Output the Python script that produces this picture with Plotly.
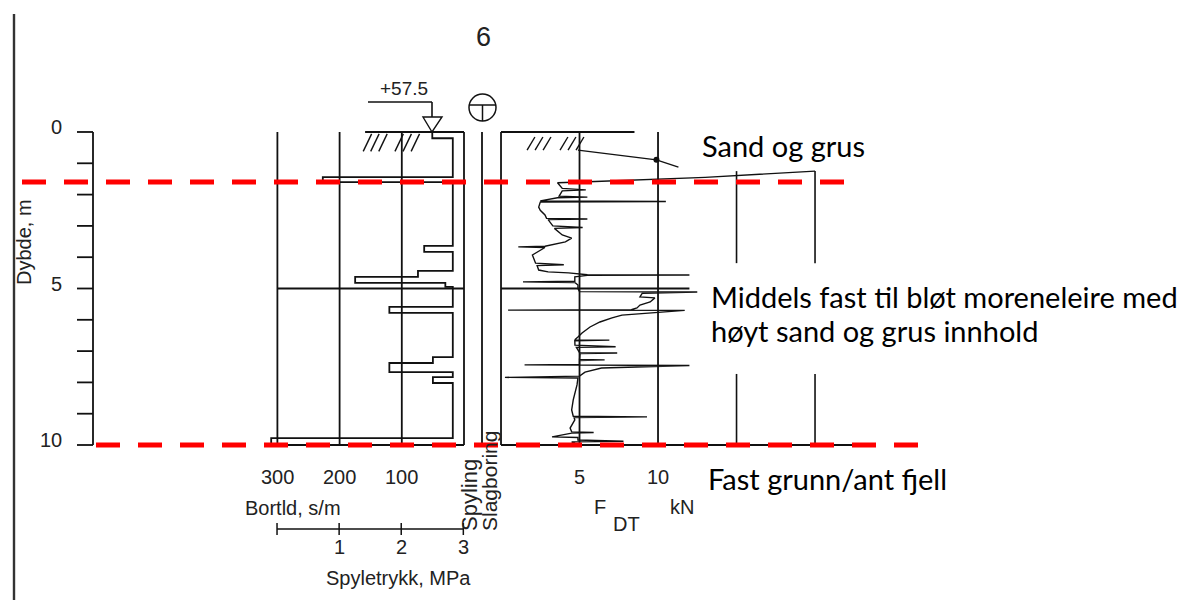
import plotly.graph_objects as go

W, H = 1184, 600

# ---------------- data ----------------
depth_ticks = list(range(0, 11))
depth_labels = ["0", "5", "10"]
depth_label_vals = [0, 5, 10]

# Bortld (drilling time, s/m) step profile: interval boundaries and values
bort_depth = [0, 0.2, 1.44, 1.6, 3.64, 3.83, 4.44, 4.63, 4.82, 4.95, 5.59, 5.78,
              7.19, 7.38, 7.67, 7.83, 8.02, 9.78, 10.0]
bort_val = [51, 18, 227, 18, 64, 18, 74, 175, 30, 18, 120, 18, 50, 120, 18, 50, 18, 310]
bort_ticks = [300, 200, 100]
bort_grid = [300, 200, 100, 0]

# Spyletrykk axis (MPa)
spyle_ticks = [0, 1, 2, 3]
spyle_labels = ["", "1", "2", "3"]

# F_DT (kN) trace, None = break
fdt_force = [4.9, 9.9, 11.3, None,
             20.0, 13.0, 6.0, 3.6, 3.9, 5.4, 3.9, 3.7, 5.5, 3.6, 2.5, 10.5, 2.5, 2.4, 2.5,
             2.8, 2.9, 5.5, 3.0, 3.3, 5.2, 3.4, 3.9, 4.5, 4.1, 2.8, 1.1, 2.8, 2.0, 2.2, 4.0,
             2.3, 2.4, 3.0, 4.3, 5.5, 12.0, 5.5, 4.7, 4.7, 1.4, 4.7, 4.9, 4.9, 5.0, 12.5,
             9.0, 8.85, 9.8, 9.5, 8.85, 8.66, 8.3, 0.45, 11.7, 7.7, 7.07, 6.3, 5.67, 5.16,
             4.9, 4.7, 6.9, 4.7, 4.71, 7.3, 4.8, 4.9, 5.0, 7.4, 5.03, 5.0, 6.6, 5.0, 5.0,
             1.5, 12.0, 6.4, 5.35, 5.0, 0.25, 4.9, 4.84, 4.6, 4.5, 4.6, 9.3, 4.65, 4.7,
             4.4, 4.5, 5.9, 4.5, 3.25, 4.9, 4.9, 7.8, 4.5, 4.9]
fdt_depth = [0.58, 0.89, 1.12, None,
             1.25, 1.45, 1.58, 1.62, 1.8, 1.85, 1.88, 2.05, 2.08, 2.1, 2.2, 2.22, 2.24, 2.4, 2.5,
             2.65, 2.76, 2.78, 2.8, 3.0, 3.05, 3.08, 3.29, 3.39, 3.51, 3.65, 3.67, 3.69, 3.93, 4.19, 4.24,
             4.27, 4.41, 4.47, 4.5, 4.56, 4.57, 4.58, 4.63, 4.77, 4.79, 4.81, 4.89, 5.0, 5.1, 5.11,
             5.15, 5.27, 5.3, 5.43, 5.53, 5.62, 5.68, 5.69, 5.7, 5.85, 5.94, 6.07, 6.23, 6.42,
             6.55, 6.64, 6.65, 6.67, 6.81, 6.86, 6.88, 6.96, 7.05, 7.06, 7.08, 7.27, 7.28, 7.3, 7.43,
             7.44, 7.46, 7.54, 7.67, 7.8, 7.84, 7.86, 8.08, 8.56, 8.88, 9.08, 9.1, 9.12, 9.2,
             9.46, 9.58, 9.6, 9.62, 9.74, 9.76, 9.84, 9.88, 9.9, 10.0]
fdt_marker_force = [9.9]
fdt_marker_depth = [0.89]
fdt_ticks = [5, 10]
fdt_grid_full = [5, 10]
fdt_grid_part = [15, 20]

layer_bounds = [1.6, 10.0]
layer_texts = ["Sand og grus",
               "Middels fast til bløt moreneleire med",
               "høyt sand og grus innhold",
               "Fast grunn/ant fjell"]

hatch_bort = [162, 150, 137, 111, 98, 85]
hatch_fdt = [1.66, 2.17, 2.68, 3.76, 4.27, 4.78]

# ---------------- helpers ----------------
def px(x):
    return x / W

def py(y):
    return 1 - y / H

BLK = "#111111"
TXT = "#222222"
FONT = "Liberation Sans, Arial, sans-serif"

fig = go.Figure()

# Bortld step curve
bx, by = [], []
for i, v in enumerate(bort_val):
    bx += [v, v]
    by += [bort_depth[i], bort_depth[i + 1]]
fig.add_trace(go.Scatter(x=bx, y=by, mode="lines", xaxis="x", yaxis="y",
                         line=dict(color=BLK, width=1.8), hoverinfo="skip", showlegend=False))

# F_DT curve
fig.add_trace(go.Scatter(x=fdt_force, y=fdt_depth, mode="lines", xaxis="x2", yaxis="y",
                         line=dict(color=BLK, width=1.4), connectgaps=False,
                         hoverinfo="skip", showlegend=False))
fig.add_trace(go.Scatter(x=fdt_marker_force, y=fdt_marker_depth, mode="markers", xaxis="x2", yaxis="y",
                         marker=dict(color=BLK, size=6), hoverinfo="skip", showlegend=False))

shapes = []
ann = []

def line(x0, y0, x1, y1, xref, yref, w=1.8, color=BLK, dash=None):
    d = dict(type="line", x0=x0, y0=y0, x1=x1, y1=y1, xref=xref, yref=yref,
             line=dict(color=color, width=w))
    if dash:
        d["line"]["dash"] = dash
    shapes.append(d)

def text(x, y, t, xref="paper", yref="paper", size=20, xa="center", ya="middle", **kw):
    d = dict(x=x, y=y, xref=xref, yref=yref, text=t, showarrow=False,
             xanchor=xa, yanchor=ya, font=dict(family=kw.pop("family", FONT), size=size,
                                              color=kw.pop("color", TXT)))
    d.update(kw)
    ann.append(d)

# far-left frame line
line(px(14), py(14), px(14), py(600), "paper", "paper", w=2.4, color="#333333")

# depth axis
line(px(93), 0, px(93), 10, "paper", "y")
for d in depth_ticks:
    line(px(77), d, px(93), d, "paper", "y")
for v, t in zip(depth_label_vals, depth_labels):
    text(px(64), v, t, yref="y", xa="right", yshift=5)
text(px(24), py(242), "Dybde, m", textangle=-90)

# Bortld grid
for b in bort_grid:
    line(b, 0, b, 10, "x", "y")
line(300, 5, 0, 5, "x", "y")
# spyling / slagboring column edges
line(px(482), 0, px(482), 10, "paper", "y")
line(0, 0, 0, 10, "x2", "y")
# top line
line(159, 0, 0, 0, "x", "y")
line(0, 0, 8.5, 0, "x2", "y")
# bottom line
line(312, 10, 0, 10, "x", "y")
line(0, 10, 23.8, 10, "x2", "y")
line(0, 5, 12.0, 5, "x2", "y")

# F_DT grid
for f in fdt_grid_full:
    line(f, 0, f, 10, "x2", "y")
for f in fdt_grid_part:
    line(f, 1.25, f, 4.19, "x2", "y", w=1.6)
    line(f, 7.73, f, 10, "x2", "y", w=1.6)

# ground hatches
for b in hatch_bort:
    line(b, 0.62, b - 13.5, 0.06, "x", "y", w=1.4)
for f in hatch_fdt:
    line(f, 0.58, f + 0.5, 0.16, "x2", "y", w=1.4)

# water level symbol
line(px(368), py(102), px(432), py(102), "paper", "paper", w=1.6)
line(px(432), py(102), px(432), py(117), "paper", "paper", w=1.6)
shapes.append(dict(type="path", xref="paper", yref="paper",
                   path=f"M {px(423)},{py(117)} L {px(442)},{py(117)} L {px(432)},{py(132)} Z",
                   line=dict(color=BLK, width=1.4)))
text(px(404), py(88), "+57.5", size=19)
# circle T symbol
shapes.append(dict(type="circle", xref="paper", yref="paper", x0=px(469), x1=px(496),
                   y0=py(94), y1=py(121), line=dict(color=BLK, width=1.5)))
line(px(469), py(105), px(496), py(105), "paper", "paper", w=1.5)
line(px(482.5), py(105), px(482.5), py(121), "paper", "paper", w=1.5)

# title
text(px(483), py(37), "6", size=27)

# Bortld tick labels
for b in bort_ticks:
    text(b, py(477), str(b), xref="x")
text(px(293), py(508), "Bortld, s/m")

# Spyletrykk axis
line(spyle_ticks[0], py(529), spyle_ticks[-1], py(529), "x3", "paper", w=1.5)
for m, t in zip(spyle_ticks, spyle_labels):
    line(m, py(523), m, py(535), "x3", "paper", w=1.5)
    if t:
        text(m, py(547), t, xref="x3")
text(px(398), py(578), "Spyletrykk, MPa")

# column labels
text(px(469), py(533), "Spyling", textangle=-90, ya="bottom", size=22)
text(px(489), py(533), "Slagboring", textangle=-90, ya="bottom", size=21)

# F_DT tick labels
for f in fdt_ticks:
    text(f, py(477), str(f), xref="x2")
text(px(600), py(507), "F")
text(px(626), py(524), "DT")
text(px(682), py(507), "kN")

# red layer boundaries
line(px(22), layer_bounds[0], px(845), layer_bounds[0], "paper", "y", w=5, color="#ff0000",
     dash="24px,18px")
line(px(96), layer_bounds[1], px(920), layer_bounds[1], "paper", "y", w=5, color="#ff0000",
     dash="24px,18px")

# layer descriptions
LFONT = "Lato, sans-serif"
text(px(700), py(145), layer_texts[0], xa="left", size=29, family=LFONT, color="#000000")
text(px(709), py(296), layer_texts[1], xa="left", size=29, family=LFONT, color="#000000")
text(px(709), py(330), layer_texts[2], xa="left", size=29, family=LFONT, color="#000000")
text(px(706), py(478), layer_texts[3], xa="left", size=29, family=LFONT, color="#000000")

fig.update_layout(
    width=W, height=H, margin=dict(l=0, r=0, t=0, b=0),
    paper_bgcolor="white", plot_bgcolor="white",
    xaxis=dict(range=[745.98, -1157.56], visible=False, domain=[0, 1], fixedrange=True),
    xaxis2=dict(range=[-31.91, 43.50], visible=False, overlaying="x", anchor="y", fixedrange=True),
    xaxis3=dict(range=[-4.461, 14.605], visible=False, overlaying="x", anchor="y", fixedrange=True),
    yaxis=dict(range=[14.952, -4.217], visible=False, domain=[0, 1], fixedrange=True),
    shapes=shapes, annotations=ann, showlegend=False,
)

fig.write_html("out.html")
